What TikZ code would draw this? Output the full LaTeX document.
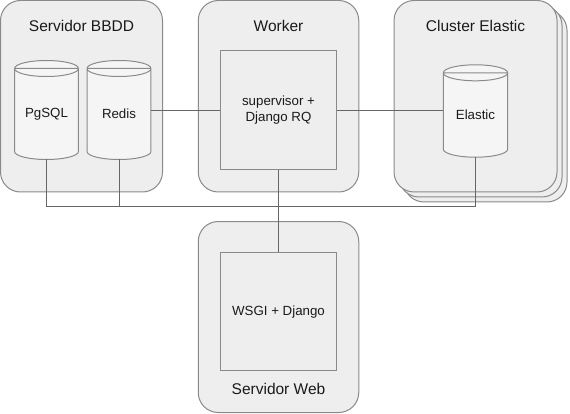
\documentclass[tikz,border=0pt]{standalone}
\usepackage{fontspec}
\setmainfont{Liberation Sans}
\usetikzlibrary{calc}
\pgfdeclarelayer{back}
\pgfdeclarelayer{mid}
\pgfsetlayers{back,mid,main}
\definecolor{boxfill}{HTML}{EEEEEE}
\definecolor{boxline}{HTML}{8A8A8A}
\definecolor{cyltop}{HTML}{F5F5F5}
\definecolor{wire}{HTML}{666666}
\definecolor{ink}{HTML}{1A1A1A}
\newcommand{\drawcyl}[1]{%
  \begin{pgfonlayer}{mid}
  \path let \p1=(#1.north west), \p2=(#1.north east), \n1={(\x2-\x1)/2} in
    [draw=boxline, fill=boxfill, line width=1pt]
    (#1.north west) -- ($(#1.south west)+(0,8)$)
    arc[start angle=180, end angle=360, x radius=\n1, y radius=8pt]
    -- (#1.north east) -- cycle
    [fill=cyltop] (#1.north) ellipse[x radius=\n1, y radius=8pt];
  \end{pgfonlayer}}
\tikzset{
  outerbox/.style={draw=boxline, fill=boxfill, line width=1pt, rounded corners=20pt,
    rectangle, inner sep=0pt},
  innerbox/.style={draw=boxline, fill=boxfill, line width=1pt, rectangle, inner sep=0pt,
    minimum width=116pt, minimum height=118.5pt, align=center,
    font=\fontsize{13.3}{15.5}\selectfont, text=ink},
  cylbox/.style={rectangle, inner sep=0pt, minimum width=63.5pt,
    font=\fontsize{13.3}{15.5}\selectfont, text=ink},
  title/.style={font=\fontsize{15.5}{18}\selectfont, text=ink, inner sep=0pt},
  wireline/.style={draw=wire, line width=1pt}
}
\begin{document}
\begin{tikzpicture}[x=1pt, y=1pt]
\useasboundingbox (0,0) rectangle (570,-414);
\begin{pgfonlayer}{back}
  \node[outerbox, minimum width=162pt, minimum height=191.5pt] (bbdd) at (81.5,-96.25) {};
  \node[outerbox, minimum width=160.5pt, minimum height=191.5pt] (workerbox) at (278.5,-96.25) {};
  \node[outerbox, minimum width=163pt, minimum height=191.5pt] (es3) at (485.5,-106.25) {};
  \node[outerbox, minimum width=163pt, minimum height=191.5pt] (es2) at (480.5,-101.25) {};
  \node[outerbox, minimum width=163pt, minimum height=191.5pt] (es1) at (475.5,-96.25) {};
  \node[outerbox, minimum width=160.5pt, minimum height=191pt] (webbox) at (278.5,-317) {};
\end{pgfonlayer}
\node[title] (t1) at (81.5,-26) {Servidor BBDD};
\node[title] (t2) at (278.5,-26) {Worker};
\node[title] (t3) at (475.5,-26) {Cluster Elastic};
\node[title] (t4) at (278.5,-389) {Servidor Web};

\node[cylbox, minimum height=90.6pt] (pg) at (46.5,-114) {PgSQL};
\node[cylbox, minimum height=90.6pt] (redis) at (119,-114) {Redis};
\node[cylbox, minimum width=64pt, minimum height=84pt] (elastic) at (475.5,-115) {Elastic};
\drawcyl{pg}
\drawcyl{redis}
\drawcyl{elastic}

\node[innerbox] (worker) at (278.5,-110.25) {supervisor +\\Django RQ};
\node[innerbox] (wsgi) at (278.5,-311.65) {WSGI + Django};

\coordinate (bus) at (278.5,-206.5);
\draw[wireline] (redis.east |- worker.west) -- (worker.west);
\draw[wireline] (worker.east) -- (elastic.west |- worker.east);
\draw[wireline] (pg.south) |- (bus);
\draw[wireline] (redis.south) |- (bus);
\draw[wireline] (elastic.south) |- (bus);
\draw[wireline] (worker.south) -- (wsgi.north);
\end{tikzpicture}
\end{document}
